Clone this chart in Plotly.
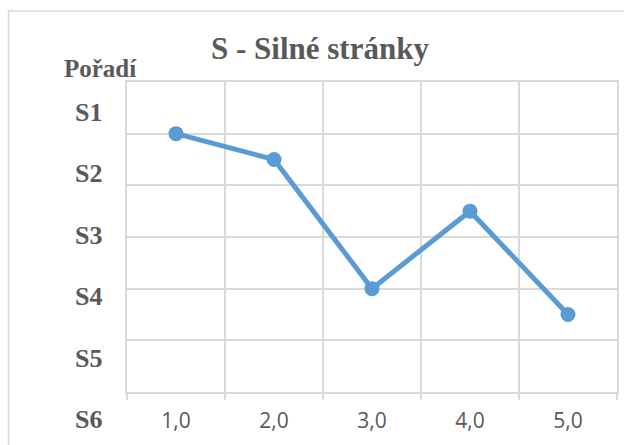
import plotly.graph_objects as go

# Chart data
categories = ["1,0", "2,0", "3,0", "4,0", "5,0"]
values = [5, 4.5, 2, 3.5, 1.5]
rank_labels = ["S1", "S2", "S3", "S4", "S5", "S6"]
title_text = "S - Silné stránky"
axis_title = "Pořadí"

W, H = 624, 445
L, R, T, B = 127, 5, 82, 53
plot_w = W - L - R
plot_h = H - T - B

GRID = "#d9d9d9"
TEXT = "#595959"
SERIF = "Liberation Serif, Times New Roman, serif"


def px_to_paper_x(px):
    return (px - L) / plot_w


def px_to_paper_y(py):
    return (H - B - py) / plot_h


fig = go.Figure()
fig.add_trace(go.Scatter(
    x=categories,
    y=values,
    mode="lines+markers",
    line=dict(color="#5b9bd5", width=5),
    marker=dict(color="#5b9bd5", size=15),
    showlegend=False,
))

annotations = [
    dict(text=f"<b>{title_text}</b>", x=px_to_paper_x(321), y=px_to_paper_y(48),
         xref="paper", yref="paper", showarrow=False, xanchor="center", yanchor="middle",
         font=dict(family=SERIF, size=31, color=TEXT)),
    dict(text=f"<b>{axis_title}</b>", x=px_to_paper_x(100), y=px_to_paper_y(69),
         xref="paper", yref="paper", showarrow=False, xanchor="center", yanchor="middle",
         font=dict(family=SERIF, size=25, color=TEXT)),
]

# Rank labels, evenly spaced down the left side
first_y, step_y = 112, 61.5
for i, lab in enumerate(rank_labels):
    annotations.append(dict(
        text=f"<b>{lab}</b>", x=px_to_paper_x(88), y=px_to_paper_y(first_y + i * step_y),
        xref="paper", yref="paper", showarrow=False, xanchor="center", yanchor="middle",
        font=dict(family=SERIF, size=26, color=TEXT)))

fig.update_layout(
    width=W, height=H,
    margin=dict(l=L, r=R, t=T, b=B, pad=0),
    paper_bgcolor="white",
    plot_bgcolor="white",
    annotations=annotations,
    shapes=[dict(type="rect", xref="paper", yref="paper",
                 x0=px_to_paper_x(8), x1=px_to_paper_x(W + 20),
                 y0=px_to_paper_y(H + 20), y1=px_to_paper_y(11),
                 line=dict(color=GRID, width=1.5), layer="below")],
    xaxis=dict(
        type="category",
        tickson="boundaries",
        showgrid=True, gridcolor=GRID, gridwidth=2,
        showline=True, linecolor=GRID, linewidth=2, mirror=True,
        ticks="outside", ticklen=6, tickcolor=GRID, tickwidth=2,
        tickfont=dict(family="Open Sans, sans-serif", size=21, color=TEXT),
        ticklabelstandoff=9,
        zeroline=False,
        range=[-0.5, 4.5],
    ),
    yaxis=dict(
        range=[0, 6], dtick=1, tick0=0,
        showgrid=True, gridcolor=GRID, gridwidth=2,
        showline=True, linecolor=GRID, linewidth=2, mirror=True,
        showticklabels=False, ticks="",
        zeroline=False,
    ),
)

fig.write_html("out.html")
